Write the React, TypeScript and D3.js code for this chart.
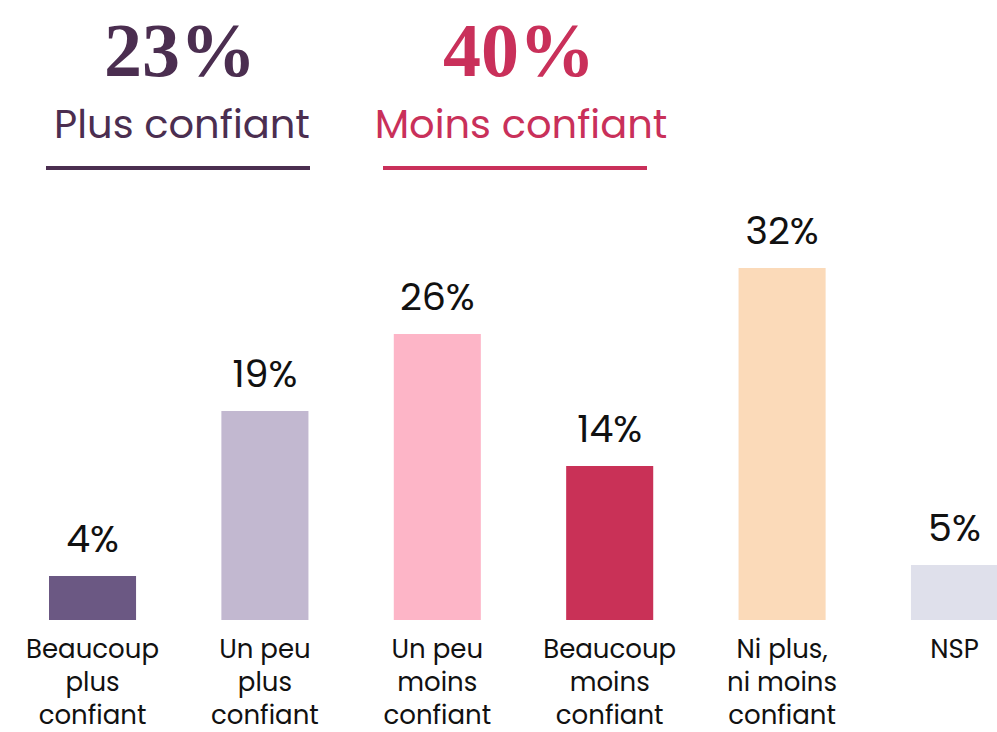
import React, { useEffect, useRef } from 'react';
import * as d3 from 'd3';

const categories = [
  ['Beaucoup', 'plus', 'confiant'],
  ['Un peu', 'plus', 'confiant'],
  ['Un peu', 'moins', 'confiant'],
  ['Beaucoup', 'moins', 'confiant'],
  ['Ni plus,', 'ni moins', 'confiant'],
  ['NSP'],
];
const values = [4, 19, 26, 14, 32, 5];
const barColors = ['#6b5883', '#c2b8d0', '#fdb5c7', '#c93157', '#fbdab9', '#dfe0eb'];

const summaryValues = ['23%', '40%'];
const summaryLabels = ['Plus confiant', 'Moins confiant'];
const summaryColors = ['#4b2e50', '#c9305a'];

const width = 997;
const height = 732;
const sansFont = "Poppins, Inter, 'Noto Sans', sans-serif";

const App = () => {
  const ref = useRef<SVGSVGElement>(null);

  useEffect(() => {
    const svg = d3.select(ref.current);
    svg.selectAll('*').remove();

    const baseline = 620;
    const x = d3.scaleBand<number>()
      .domain(d3.range(values.length))
      .range([49, 998])
      .paddingInner(0.495)
      .paddingOuter(0);
    const y = d3.scaleLinear().domain([0, 32]).range([baseline, baseline - 352]);

    // summary header
    const headerCenters = [180, 519];
    const lineCenters = [178, 515];
    summaryValues.forEach((v, i) => {
      svg.append('text')
        .attr('x', headerCenters[i])
        .attr('y', 76)
        .attr('text-anchor', 'middle')
        .style('font-family', "'Liberation Serif', 'DejaVu Serif', serif")
        .style('font-weight', 'bold')
        .style('font-size', '76px')
        .style('fill', summaryColors[i])
        .text(v);

      svg.append('text')
        .attr('x', headerCenters[i] + 2)
        .attr('y', 138)
        .attr('text-anchor', 'middle')
        .style('font-family', sansFont)
        .style('font-size', '40px')
        .style('fill', summaryColors[i])
        .text(summaryLabels[i]);

      svg.append('line')
        .attr('x1', lineCenters[i] - 132)
        .attr('x2', lineCenters[i] + 132)
        .attr('y1', 168)
        .attr('y2', 168)
        .style('stroke', summaryColors[i])
        .style('stroke-width', 4);
    });

    // bars
    svg.selectAll('.bar')
      .data(values)
      .enter().append('rect')
      .attr('class', 'bar')
      .attr('x', (d, i) => x(i)!)
      .attr('y', d => y(d))
      .attr('width', x.bandwidth())
      .attr('height', d => baseline - y(d))
      .style('fill', (d, i) => barColors[i]);

    // value labels
    svg.selectAll('.val')
      .data(values)
      .enter().append('text')
      .attr('class', 'val')
      .attr('x', (d, i) => x(i)! + x.bandwidth() / 2)
      .attr('y', d => y(d) - 24)
      .attr('text-anchor', 'middle')
      .style('font-family', sansFont)
      .style('font-size', '38px')
      .style('fill', '#111')
      .text(d => `${d}%`);

    // category labels, one text per line
    categories.forEach((lines, i) => {
      lines.forEach((line, j) => {
        svg.append('text')
          .attr('x', x(i)! + x.bandwidth() / 2)
          .attr('y', 658 + j * 33)
          .attr('text-anchor', 'middle')
          .style('font-family', sansFont)
          .style('font-size', '26px')
          .style('fill', '#111')
          .text(line);
      });
    });
  }, []);

  return (
    <svg
      ref={ref}
      width={width}
      height={height}
      style={{ position: 'absolute', left: 0, top: 0, background: '#fff' }}
    />
  );
};

export default App;
